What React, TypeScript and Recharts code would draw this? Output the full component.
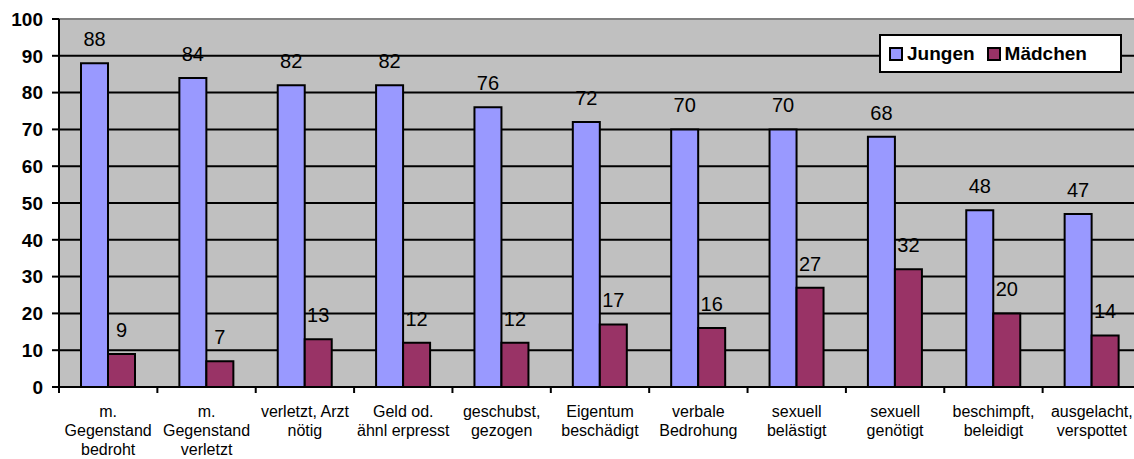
import { BarChart, Bar, XAxis, YAxis, CartesianGrid, LabelList, ReferenceLine } from 'recharts';

const categories = [
  'm.\nGegenstand\nbedroht',
  'm.\nGegenstand\nverletzt',
  'verletzt, Arzt\nnötig',
  'Geld od.\nähnl erpresst',
  'geschubst,\ngezogen',
  'Eigentum\nbeschädigt',
  'verbale\nBedrohung',
  'sexuell\nbelästigt',
  'sexuell\ngenötigt',
  'beschimpft,\nbeleidigt',
  'ausgelacht,\nverspottet',
];
const jungen = [88, 84, 82, 82, 76, 72, 70, 70, 68, 48, 47];
const maedchen = [9, 7, 13, 12, 12, 17, 16, 27, 32, 20, 14];
const yTicks = [0, 10, 20, 30, 40, 50, 60, 70, 80, 90, 100];
const seriesNames = ['Jungen', 'Mädchen'];
const seriesColors = ['#9999FF', '#993366'];

const data = categories.map((name, i) => ({ name, jungen: jungen[i], maedchen: maedchen[i] }));

const FONT = '"Liberation Sans", Arial, sans-serif';
const CHART_W = 1141;
const CHART_H = 459;
const AXIS_W = 59;
const HALF_BAND = (CHART_W - AXIS_W) / categories.length / 2;

function CategoryTick(props: any) {
  const { x, y, payload } = props;
  const half = payload?.offset || HALF_BAND;
  const lines = String(payload.value).split('\n');
  return (
    <g>
      <line x1={x - half} x2={x - half} y1={y} y2={y + 6} stroke="#000" strokeWidth={2} />
      <text x={x} y={y + 30} textAnchor="middle" fontSize={16} fontFamily={FONT} fill="#000">
        {lines.map((l, i) => (
          <tspan key={i} x={x} dy={i === 0 ? 0 : 19}>{l}</tspan>
        ))}
      </text>
    </g>
  );
}

// legend drawn outside recharts so it doesn't eat plot space
function LegendBox() {
  return (
    <div
      style={{
        position: 'absolute',
        left: 879,
        top: 34,
        width: 243,
        height: 39,
        background: '#fff',
        border: '2px solid #000',
        display: 'flex',
        alignItems: 'center',
        paddingLeft: 8,
        boxSizing: 'border-box',
        fontFamily: FONT,
        color: '#000',
      }}
    >
      {seriesNames.map((n, i) => (
        <span key={n} style={{ display: 'inline-flex', alignItems: 'center', marginRight: 12 }}>
          <span style={{ width: 10, height: 10, background: seriesColors[i], border: '2px solid #000', marginRight: 4 }} />
          <span style={{ fontWeight: 'bold', fontSize: 19 }}>{n}</span>
        </span>
      ))}
    </div>
  );
}

export default function App() {
  return (
    <div style={{ position: 'absolute', left: 0, top: 0, width: 1134, height: CHART_H, overflow: 'hidden', background: '#fff', fontFamily: FONT }}>
      <BarChart
        width={CHART_W}
        height={CHART_H}
        data={data}
        margin={{ top: 19, right: 0, left: 0, bottom: 0 }}
        barSize={27}
        barGap={0}
      >
        <CartesianGrid vertical={false} fill="#C0C0C0" stroke="#000" strokeWidth={2} horizontalValues={yTicks} />
        <ReferenceLine y={100} stroke="#808080" strokeWidth={2} />
        <XAxis
          dataKey="name"
          height={CHART_H - 19 - 368}
          interval={0}
          tickLine={false}
          tickSize={0}
          tickMargin={0}
          axisLine={{ stroke: '#000', strokeWidth: 2 }}
          tick={<CategoryTick />}
        />
        <YAxis
          width={AXIS_W}
          domain={[0, 100]}
          ticks={yTicks}
          interval={0}
          tickSize={7}
          tickMargin={9}
          axisLine={{ stroke: '#000', strokeWidth: 2 }}
          tickLine={{ stroke: '#000', strokeWidth: 2 }}
          tick={{ fill: '#000', fontSize: 19, fontWeight: 'bold', fontFamily: FONT }}
        />
        <Bar dataKey="jungen" name={seriesNames[0]} fill={seriesColors[0]} stroke="#000" strokeWidth={2} isAnimationActive={false}>
          <LabelList dataKey="jungen" position="top" offset={17} fill="#000" fontSize={20} fontFamily={FONT} />
        </Bar>
        <Bar dataKey="maedchen" name={seriesNames[1]} fill={seriesColors[1]} stroke="#000" strokeWidth={2} isAnimationActive={false}>
          <LabelList dataKey="maedchen" position="top" offset={17} fill="#000" fontSize={20} fontFamily={FONT} />
        </Bar>
      </BarChart>
      <LegendBox />
    </div>
  );
}
